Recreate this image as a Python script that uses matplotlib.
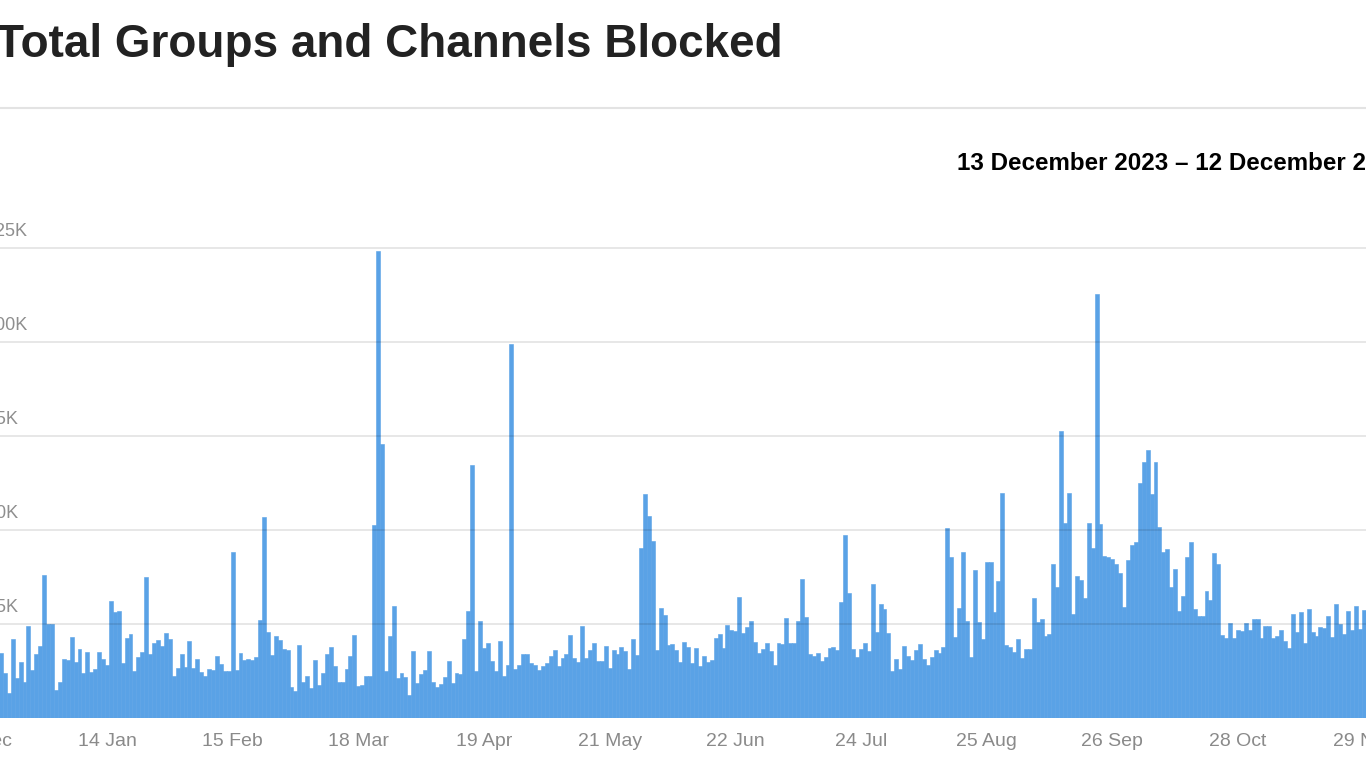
import datetime as dt
import matplotlib.pyplot as plt
from matplotlib.lines import Line2D
import numpy as np

# daily counts (thousands), first visible bar is 18 Dec 2023
blocked_dec_mar = [17.4, 11.9, 6.7, 21.0, 10.7, 15.0, 9.7, 24.6, 12.7, 16.9,
                   19.1, 38.0, 25.0, 25.0, 7.4, 9.6, 15.8, 15.4, 21.5, 15.0,
                   18.3, 12.1, 17.6, 12.2, 13.1, 17.6, 15.6, 14.1, 31.0, 28.2,
                   28.4, 14.5, 21.3, 22.3, 12.4, 16.3, 17.6, 37.5, 16.9, 20.0,
                   20.7, 19.2, 22.5, 21.1, 11.3, 13.3, 16.9, 13.5, 20.6, 13.4,
                   15.6, 12.2, 11.3, 13.0, 12.7, 16.6, 14.4, 12.4, 12.4, 44.2,
                   12.8, 17.4, 15.4, 15.6, 15.4, 16.1, 26.1, 53.5, 22.9, 16.8,
                   21.9, 20.7, 18.3, 18.1, 8.2, 7.1, 19.3, 9.6, 11.2, 8.0,
                   15.4, 8.7, 12.1, 17.1, 18.8, 13.7, 9.7]
blocked_mar_jun = [9.6, 12.9, 16.6, 22.1, 8.4, 8.8, 11.1, 11.1, 51.2, 124.3,
                   72.9, 12.6, 21.8, 29.8, 10.6, 11.9, 10.8, 6.1, 17.8, 9.4,
                   11.6, 12.7, 17.8, 9.6, 8.2, 9.1, 10.8, 15.1, 9.2, 12.1,
                   11.6, 21.1, 28.5, 67.3, 12.4, 25.8, 18.7, 19.9, 15.1, 12.4,
                   20.4, 11.3, 14.1, 99.5, 13.1, 14.1, 17.1, 17.1, 14.7, 14.1,
                   12.8, 13.7, 14.7, 16.6, 18.1, 13.7, 15.9, 16.9, 22.1, 15.9,
                   15.0, 24.4, 15.9, 18.2, 19.9, 15.1, 15.1, 19.1, 13.4, 18.1,
                   17.0, 18.9, 17.9, 12.9, 21.0, 16.7, 45.3, 59.7, 53.7, 47.0,
                   18.1, 29.3, 27.3, 19.4, 19.6, 18.0, 14.9]
blocked_jun_sep = [20.1, 18.9, 14.7, 18.5, 13.7, 16.6, 15.0, 15.5, 21.3, 22.3,
                   18.7, 24.8, 23.3, 23.1, 32.3, 22.6, 24.3, 25.7, 20.3, 17.4,
                   18.4, 20.0, 17.9, 14.2, 20.0, 19.8, 26.5, 19.9, 20.0, 25.7,
                   37.0, 26.9, 17.1, 16.5, 17.3, 15.2, 16.3, 18.6, 18.9, 18.1,
                   30.8, 48.7, 33.2, 18.4, 16.3, 18.4, 19.9, 17.8, 35.7, 23.0,
                   30.2, 29.1, 22.5, 12.4, 15.6, 12.9, 19.1, 16.6, 15.3, 18.0,
                   19.8, 15.7, 14.1, 16.2, 18.1, 17.3, 18.9, 50.4, 42.9, 21.6,
                   29.3, 44.2, 25.7, 16.1, 39.3, 25.4, 21.1, 41.5, 41.5, 28.3,
                   36.4, 59.9, 19.5, 19.0, 17.5, 20.9]
blocked_sep_nov = [15.9, 18.3, 18.3, 31.9, 25.5, 26.4, 21.7, 22.4, 40.9, 34.8,
                   76.2, 51.9, 59.9, 27.6, 37.7, 36.6, 32.0, 51.9, 45.3, 112.8,
                   51.6, 43.2, 42.7, 42.3, 40.9, 38.6, 29.5, 42.1, 45.9, 46.8,
                   62.4, 68.0, 71.3, 59.6, 68.1, 50.8, 44.2, 44.9, 34.8, 39.6,
                   28.4, 32.4, 42.8, 46.8, 28.9, 27.0, 27.2, 33.9, 31.4, 43.8,
                   40.9, 22.0, 21.3, 25.2, 21.2, 23.5, 23.1, 25.2, 23.3, 26.2,
                   26.4, 21.4, 24.6, 24.5, 21.3, 21.7, 23.3, 20.6, 18.5, 27.7,
                   23.0, 28.2, 20.0, 28.9, 22.8, 21.8, 24.1, 23.9, 27.1, 21.5,
                   30.2, 25.0, 22.4, 28.4, 23.5, 29.9, 23.8, 28.8, 31.3]

y_ticks = [25000, 50000, 75000, 100000, 125000]
y_labels = ['25K', '50K', '75K', '100K', '125K']

start = dt.date(2023, 12, 13)
first_day = 5
n_days = 366

blocked = np.array(blocked_dec_mar + blocked_mar_jun + blocked_jun_sep + blocked_sep_nov) * 1000
days = np.arange(first_day, first_day + len(blocked))

W, H = 1366, 768
fig = plt.figure(figsize=(W / 100, H / 100), dpi=100)
fig.patch.set_facecolor('white')

# plot area is wider than the screenshot (cropped on both sides)
px_day = 3.927
left_px = -18.7 - px_day / 2
ax = fig.add_axes([left_px / W, 50 / H, px_day * n_days / W, 94 * 5.2 / H])
ax.set_xlim(-0.5, n_days - 0.5)
ax.set_ylim(0, 130000)

ax.bar(days, blocked, width=1.0, color='#5AA2E6', edgecolor='#5AA2E6', linewidth=0.4, zorder=2)

for v in y_ticks:
    ax.axhline(v, color=(0, 0, 0, 0.10), lw=1.3, zorder=3)

for v, lab in zip(y_ticks, y_labels):
    ax.annotate(lab, xy=(-14 / W, v), xycoords=('figure fraction', 'data'),
                xytext=(0, 9), textcoords='offset points', ha='left', va='baseline',
                fontsize=13, color='#8e8e8e', family='Liberation Sans')

tick_days = np.arange(0, n_days, 32)
ax.set_xticks(tick_days)
ax.set_xticklabels([(start + dt.timedelta(days=int(d))).strftime('%-d %b') for d in tick_days],
                   fontsize=14, color='#8a8a8a', family='Liberation Sans')
ax.tick_params(axis='x', length=0, pad=11)
ax.set_yticks([])
for s in ax.spines.values():
    s.set_visible(False)
ax.set_facecolor('none')

fig.text(-4 / W, 1 - 57 / H, 'Total Groups and Channels Blocked', fontsize=33, weight='bold',
         color='#222222', family='Liberation Sans', va='baseline', ha='left')
fig.add_artist(Line2D([0, 1], [1 - 108 / H, 1 - 108 / H], transform=fig.transFigure,
                      color='#e3e3e3', lw=1.5))
fig.text(957 / W, 1 - 170 / H, '13 December 2023 \u2013 12 December 2024', fontsize=17.4,
         weight='bold', color='black', family='Liberation Sans', va='baseline', ha='left')

fig.savefig('out.png', dpi=100)
